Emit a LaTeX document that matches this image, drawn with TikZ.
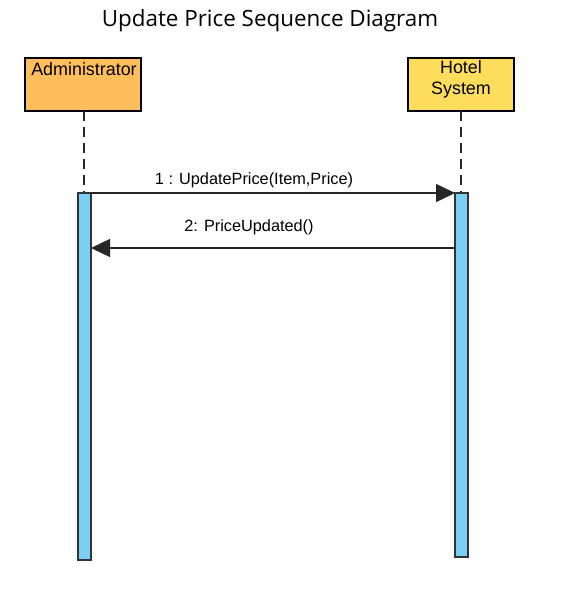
\documentclass[tikz,border=0pt]{standalone}
\usepackage{fontspec}
\setmainfont{Liberation Sans}
\newfontfamily\titlefont{Open Sans}
\usetikzlibrary{arrows.meta}
\definecolor{adminc}{HTML}{FFBE5C}
\definecolor{hotelc}{HTML}{FFDD5C}
\definecolor{actc}{HTML}{7ACFF5}
\begin{document}
\begin{tikzpicture}[x=1pt,y=-1pt,
  actor/.style={draw=black,line width=1.4pt,minimum width=#1,minimum height=53pt,inner sep=0pt},
  actbar/.style={draw=black!80,line width=1.4pt,fill=actc},
  lifeline/.style={line width=1.5pt,black!85,dash pattern=on 10pt off 6pt},
  msg/.style={line width=1.4pt,black!85,-{Triangle[length=19pt,width=18pt]}},
  lbl/.style={font=\fontsize{16.3}{18}\selectfont,inner sep=0pt}]
\useasboundingbox (0,0) rectangle (578,602);
\node[font=\titlefont\fontsize{22.4}{26}\selectfont] (title) at (270,21) {Update Price Sequence Diagram};
% actors
\node[actor=116pt,fill=adminc] (admin) at (83,84.5) {};
\node[font=\fontsize{17.9}{21}\selectfont,inner sep=0pt] (admintxt) at (84,69) {Administrator};
\node[actor=106pt,fill=hotelc] (hotel) at (461,84.5) {};
\node[align=center,font=\fontsize{17.9}{21}\selectfont,inner sep=0pt] (hoteltxt) at (461,79) {Hotel\\System};
% lifelines
\coordinate (al) at (84,193);
\coordinate (hl) at (461,193);
\draw[lifeline] (84,111) -- (al);
\draw[lifeline] (461,111) -- (hl);
% activation bars
\draw[actbar] (78,193) rectangle (91,560);
\draw[actbar] (455,193) rectangle (468,557);
\coordinate (a1s) at (91,193);
\coordinate (a1e) at (455,193);
\coordinate (a2s) at (455,248);
\coordinate (a2e) at (91,248);
% messages
\node[lbl] (m1) at (254,180) {1 : UpdatePrice(Item,Price)};
\node[lbl] (m2) at (249,227) {2: PriceUpdated()};
\draw[msg] (a1s) -- (a1e);
\draw[msg] (a2s) -- (a2e);
\end{tikzpicture}
\end{document}
